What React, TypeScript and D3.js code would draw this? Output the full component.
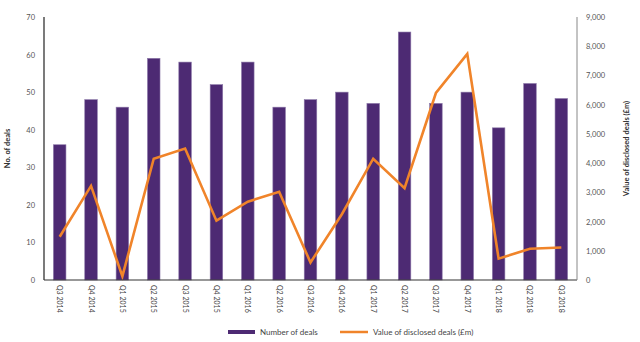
import React from "react";
import * as d3 from "d3";

const categories = ["Q3 2014","Q4 2014","Q1 2015","Q2 2015","Q3 2015","Q4 2015","Q1 2016","Q2 2016","Q3 2016","Q4 2016","Q1 2017","Q2 2017","Q3 2017","Q4 2017","Q1 2018","Q2 2018","Q3 2018"];
const numberOfDeals = [36,48,46,59,58,52,58,46,48,50,47,66,47,50,40.5,52.3,48.3];
const dealValues = [1480,3220,130,4150,4500,2030,2680,3020,600,2250,4150,3140,6400,7740,730,1070,1110];
const leftTicks = [0,10,20,30,40,50,60,70];
const rightTicks = [0,1000,2000,3000,4000,5000,6000,7000,8000,9000];

const W = 640, H = 342;
const L = 44, R = 577, T = 17, B = 280;
const FONT = "Lato, 'Noto Sans', sans-serif";
const PURPLE = "#4d2a73";
const ORANGE = "#f0842a";

export default function App() {
  const x = d3.scaleBand<string>().domain(categories).range([L, R]).paddingInner(0.6).paddingOuter(0.3);
  const yL = d3.scaleLinear().domain([0, 70]).range([B, T]);
  const yR = d3.scaleLinear().domain([0, 9000]).range([B, T]);
  const line = d3.line<number>()
    .x((_, i) => (x(categories[i]) as number) + x.bandwidth() / 2)
    .y((d) => yR(d));
  const fmt = d3.format(",");
  return (
    <svg width={W} height={H} style={{ position: "absolute", left: 0, top: 0 }} fontFamily={FONT}>
      {categories.map((c, i) => (
        <rect key={c} x={x(c)} y={yL(numberOfDeals[i])} width={x.bandwidth()} height={B - yL(numberOfDeals[i])}
          fill={PURPLE} stroke="#8c78a8" strokeWidth={0.6} />
      ))}
      <path d={line(dealValues) || ""} fill="none" stroke={ORANGE} strokeWidth={2.6} strokeLinejoin="miter" />
      <line x1={L} x2={L} y1={T} y2={B} stroke="#222" strokeWidth={1.2} />
      <line x1={L} x2={R} y1={B} y2={B} stroke="#333" strokeWidth={1.2} />
      <line x1={R} x2={R} y1={T} y2={B} stroke="#888" strokeWidth={1} />
      {leftTicks.map((t) => (
        <text key={t} x={35} y={yL(t) + 3} textAnchor="end" fontSize={7.5} fill="#555">{t}</text>
      ))}
      {rightTicks.map((t) => (
        <text key={t} x={586} y={yR(t) + 3} textAnchor="start" fontSize={7.5} fill="#555">{fmt(t)}</text>
      ))}
      {categories.map((c) => {
        const cx = (x(c) as number) + x.bandwidth() / 2;
        return (
          <text key={c} transform={`translate(${cx - 2.5},${B + 5}) rotate(90)`} fontSize={7} fill="#444">{c}</text>
        );
      })}
      <text transform={`translate(10,${(T + B) / 2}) rotate(-90)`} textAnchor="middle" fontSize={7.5} fontWeight="bold" fill="#333">No. of deals</text>
      <text transform={`translate(629,${(T + B) / 2}) rotate(-90)`} textAnchor="middle" fontSize={7.5} fontWeight="bold" fill="#333">Value of disclosed deals (£m)</text>
      <rect x={228} y={330} width={27} height={4} fill={PURPLE} />
      <text x={260} y={334.5} fontSize={8} fill="#444">Number of deals</text>
      <line x1={340} x2={368} y1={332} y2={332} stroke={ORANGE} strokeWidth={2.5} />
      <text x={373} y={334.5} fontSize={8} fill="#444">Value of disclosed deals (£m)</text>
    </svg>
  );
}
